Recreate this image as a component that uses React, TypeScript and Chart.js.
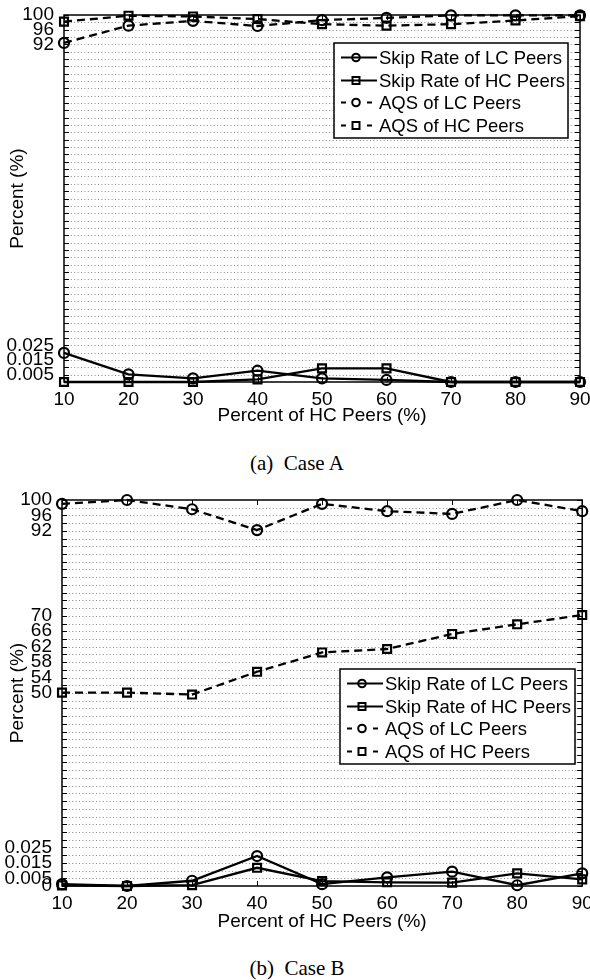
import React, { useEffect, useRef } from 'react';
import { Chart, registerables, LinearScale } from 'chart.js';

Chart.register(...registerables);

// ---------------- data ----------------
const xValues = [10, 20, 30, 40, 50, 60, 70, 80, 90];

const seriesNames = ['Skip Rate of LC Peers', 'Skip Rate of HC Peers', 'AQS of LC Peers', 'AQS of HC Peers'];

// Case A
const skipLC_A = [0.0198, 0.0052, 0.0025, 0.0077, 0.0025, 0.0014, 0, 0, 0];
const skipHC_A = [0, 0, 0, 0.0018, 0.0093, 0.0093, 0, 0, 0];
const aqsLC_A = [92.4, 97.1, 98.4, 97.0, 98.6, 99.2, 99.9, 99.9, 99.9];
const aqsHC_A = [98.2, 99.8, 99.6, 98.9, 97.5, 97.1, 97.5, 98.5, 99.7];

// Case B
const skipLC_B = [0.0012, 0, 0.0034, 0.0194, 0.0012, 0.0056, 0.0093, 0.0005, 0.0082];
const skipHC_B = [0.0004, 0, 0.0006, 0.0118, 0.0032, 0.0024, 0.0022, 0.0082, 0.0043];
const aqsLC_B = [99.0, 100, 97.6, 92.2, 99.0, 97.1, 96.4, 100, 97.1];
const aqsHC_B = [50.1, 50.1, 49.6, 55.5, 60.5, 61.4, 65.3, 67.8, 70.2];

// y tick labels
const yTicksA = [0.005, 0.015, 0.025, 92, 96, 100];
const yTicksB = [0, 0.005, 0.015, 0.025, 50, 54, 58, 62, 66, 70, 92, 96, 100];

const xTitle = 'Percent of HC Peers (%)';
const yTitle = 'Percent (%)';
const captionA = '(a)  Case A';
const captionB = '(b)  Case B';

// ---------------- broken (piecewise) y scale ----------------
const U_MAX = 50;
const LOW_STEP = 0.005;
const LOW_TOP = 0.025;
const HIGH_STEP = 2;

function toU(v: number) {
  return v <= LOW_TOP + 1e-9 ? v / LOW_STEP : v / HIGH_STEP;
}
function fromU(u: number) {
  return u <= LOW_TOP / LOW_STEP + 1e-9 ? u * LOW_STEP : u * HIGH_STEP;
}

class BrokenScale extends LinearScale {
  static id = 'broken';
  static defaults = LinearScale.defaults;
  getPixelForValue(value: number) {
    return this.getPixelForDecimal(toU(value) / U_MAX);
  }
  getValueForPixel(pixel: number) {
    return fromU(this.getDecimalForPixel(pixel) * U_MAX);
  }
}
Chart.register(BrokenScale as any);

const SANS = '"Liberation Sans", Arial, Helvetica, sans-serif';
const FONT_SIZE = 19;
const LEGEND_FONT_SIZE = 18.5;

// ---------------- plugins ----------------
const gridPlugin = {
  id: 'dotGrid',
  beforeDatasetsDraw(chart: any) {
    const { ctx, chartArea: a, scales } = chart;
    const y = scales.y;
    ctx.save();
    ctx.strokeStyle = '#8a8a8a';
    ctx.lineWidth = 1;
    ctx.setLineDash([1, 2.4]);
    y.ticks.forEach((_t: any, i: number) => {
      const py = Math.round(y.getPixelForTick(i)) + 0.5;
      if (py <= a.top + 1 || py >= a.bottom - 1) return;
      ctx.beginPath();
      ctx.moveTo(a.left, py);
      ctx.lineTo(a.right, py);
      ctx.stroke();
    });
    ctx.restore();
  },
};

const framePlugin = {
  id: 'frame',
  afterDraw(chart: any) {
    const { ctx, chartArea: a, scales } = chart;
    ctx.save();
    ctx.strokeStyle = '#000';
    ctx.setLineDash([]);
    ctx.lineWidth = 1;
    const y = scales.y;
    y.ticks.forEach((_t: any, i: number) => {
      const py = Math.round(y.getPixelForTick(i)) + 0.5;
      ctx.beginPath();
      ctx.moveTo(a.left, py);
      ctx.lineTo(a.left + 5, py);
      ctx.moveTo(a.right, py);
      ctx.lineTo(a.right - 5, py);
      ctx.stroke();
    });
    const x = scales.x;
    x.ticks.forEach((_t: any, i: number) => {
      const px = Math.round(x.getPixelForTick(i)) + 0.5;
      ctx.beginPath();
      ctx.moveTo(px, a.top);
      ctx.lineTo(px, a.top + 5);
      ctx.moveTo(px, a.bottom);
      ctx.lineTo(px, a.bottom - 5);
      ctx.stroke();
    });
    ctx.lineWidth = 1.5;
    ctx.strokeRect(a.left, a.top, a.right - a.left, a.bottom - a.top);
    ctx.restore();
  },
};

const boxLegendPlugin = {
  id: 'boxLegend',
  afterDraw(chart: any, _args: any, opts: any) {
    if (!opts || opts.x === undefined) return;
    const { ctx } = chart;
    const { x, y, w, h } = opts;
    ctx.save();
    ctx.fillStyle = '#fff';
    ctx.fillRect(x, y, w, h);
    ctx.strokeStyle = '#000';
    ctx.lineWidth = 1.5;
    ctx.setLineDash([]);
    ctx.strokeRect(x, y, w, h);
    chart.data.datasets.forEach((ds: any, i: number) => {
      const ry = Math.round(y + 14 + i * 22.7) + 0.5;
      const dashed = ds.borderDash && ds.borderDash.length > 0;
      ctx.lineWidth = 2.2;
      ctx.strokeStyle = '#000';
      if (dashed) {
        ctx.setLineDash([5, 21]);
        ctx.beginPath();
        ctx.moveTo(x + 7, ry);
        ctx.lineTo(x + 38, ry);
        ctx.stroke();
      } else {
        ctx.setLineDash([]);
        ctx.beginPath();
        ctx.moveTo(x + 7, ry);
        ctx.lineTo(x + 43, ry);
        ctx.stroke();
      }
      ctx.setLineDash([]);
      const cx = x + 22;
      ctx.lineWidth = 2;
      ctx.beginPath();
      if (ds.pointStyle === 'rect') {
        ctx.rect(cx - 3.5, ry - 3.5, 7, 7);
      } else {
        ctx.arc(cx, ry, 3.8, 0, Math.PI * 2);
      }
      ctx.stroke();
      ctx.fillStyle = '#000';
      ctx.font = `${LEGEND_FONT_SIZE}px ${SANS}`;
      ctx.textAlign = 'left';
      ctx.textBaseline = 'middle';
      ctx.fillText(seriesNames[i], x + 45, ry + 1);
    });
    ctx.restore();
  },
};

// ---------------- chart config ----------------
function makeDatasets(skipLC: number[], skipHC: number[], aqsLC: number[], aqsHC: number[]) {
  const base = {
    borderColor: '#000',
    borderWidth: 2.3,
    pointBorderColor: '#000',
    pointBackgroundColor: 'rgba(0,0,0,0)',
    pointBorderWidth: 2.2,
    tension: 0,
    clip: false as any,
    fill: false,
  };
  const circle = { pointStyle: 'circle', pointRadius: 5 };
  const square = { pointStyle: 'rect', pointRadius: 5.6 };
  return [
    { ...base, ...circle, label: seriesNames[0], data: skipLC, borderDash: [] },
    { ...base, ...square, label: seriesNames[1], data: skipHC, borderDash: [] },
    { ...base, ...circle, label: seriesNames[2], data: aqsLC, borderDash: [8, 5] },
    { ...base, ...square, label: seriesNames[3], data: aqsHC, borderDash: [8, 5] },
  ];
}

interface Geo {
  height: number;
  left: number;
  right: number;
  top: number;
  bottom: number;
  legend: { x: number; y: number; w: number; h: number };
}

function makeConfig(datasets: any[], yTicks: number[], g: Geo): any {
  return {
    type: 'line',
    data: { labels: xValues, datasets },
    options: {
      animation: false,
      responsive: false,
      devicePixelRatio: 1,
      layout: { padding: { left: 0, right: 590 - g.right, top: g.top, bottom: 0 } },
      plugins: {
        legend: { display: false },
        tooltip: { enabled: false },
        title: { display: false },
        boxLegend: g.legend,
      },
      scales: {
        x: {
          type: 'linear',
          min: 10,
          max: 90,
          grid: { display: false },
          border: { display: false },
          ticks: {
            stepSize: 10,
            autoSkip: false,
            maxRotation: 0,
            padding: -2,
            color: '#000',
            font: { family: SANS, size: FONT_SIZE },
          },
          title: {
            display: true,
            text: xTitle,
            color: '#000',
            font: { family: SANS, size: FONT_SIZE },
            padding: { top: 0, bottom: 3 },
          },
          afterFit: (s: any) => {
            s.height = g.height - g.bottom;
            s.paddingLeft = 0;
            s.paddingRight = 0;
          },
        },
        y: {
          type: 'broken',
          min: 0,
          max: 100,
          grid: { display: false },
          border: { display: false },
          afterBuildTicks: (s: any) => {
            s.ticks = Array.from({ length: U_MAX + 1 }, (_v, u) => ({ value: fromU(u) }));
          },
          ticks: {
            autoSkip: false,
            padding: 2,
            color: '#000',
            font: { family: SANS, size: FONT_SIZE },
            callback: (value: number) => {
              const t = yTicks.find((v) => Math.abs(v - value) < 1e-9);
              return t === undefined ? '' : String(t);
            },
          },
          title: {
            display: true,
            text: yTitle,
            color: '#000',
            font: { family: SANS, size: FONT_SIZE },
            padding: { top: 6, bottom: 0 },
          },
          afterFit: (s: any) => {
            s.width = g.left;
            s.paddingTop = 0;
            s.paddingBottom = 0;
          },
        },
      },
    },
    plugins: [gridPlugin, framePlugin, boxLegendPlugin],
  };
}

function CaseChart({ pageTop, datasets, yTicks, geo }: { pageTop: number; datasets: any[]; yTicks: number[]; geo: Geo }) {
  const ref = useRef<HTMLCanvasElement | null>(null);
  useEffect(() => {
    if (!ref.current) return;
    const chart = new Chart(ref.current, makeConfig(datasets, yTicks, geo));
    return () => chart.destroy();
  }, []);
  return (
    <canvas
      ref={ref}
      width={590}
      height={geo.height}
      style={{ position: 'absolute', left: 0, top: pageTop, width: 590, height: geo.height, display: 'block' }}
    />
  );
}

const geoA: Geo = { height: 430, left: 64, right: 580, top: 15, bottom: 382, legend: { x: 334, y: 43, w: 234, h: 95 } };
const geoB: Geo = { height: 456, left: 62, right: 583, top: 20, bottom: 406, legend: { x: 340, y: 189, w: 235, h: 95 } };

const captionStyle: React.CSSProperties = {
  position: 'absolute',
  left: 0,
  width: 594,
  textAlign: 'center',
  fontFamily: '"Liberation Serif", "Times New Roman", serif',
  fontSize: 21,
  lineHeight: '24px',
  whiteSpace: 'pre',
  color: '#000',
};

export default function App() {
  const dsA = makeDatasets(skipLC_A, skipHC_A, aqsLC_A, aqsHC_A);
  const dsB = makeDatasets(skipLC_B, skipHC_B, aqsLC_B, aqsHC_B);
  return (
    <div style={{ position: 'absolute', left: 0, top: 0, width: 590, height: 980, overflow: 'hidden', background: '#fff' }}>
      <CaseChart pageTop={0} datasets={dsA} yTicks={yTicksA} geo={geoA} />
      <div style={{ ...captionStyle, top: 451 }}>{captionA}</div>
      <CaseChart pageTop={480} datasets={dsB} yTicks={yTicksB} geo={geoB} />
      <div style={{ ...captionStyle, top: 956 }}>{captionB}</div>
    </div>
  );
}
